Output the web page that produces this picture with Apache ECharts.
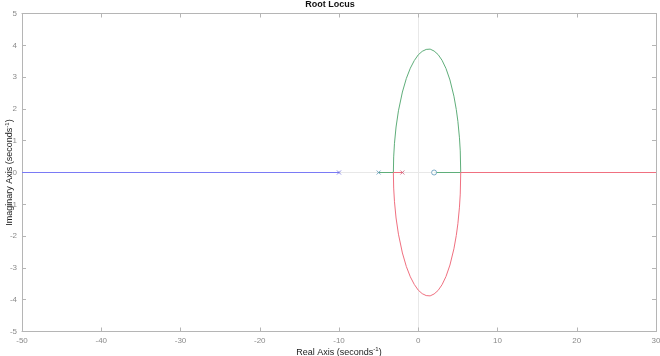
<!DOCTYPE html>
<html>
<head>
<meta charset="utf-8">
<script src="https://cdn.jsdelivr.net/npm/echarts@6/dist/echarts.min.js"></script>
<style>html,body{margin:0;padding:0;background:#fff}#c{width:660px;height:356px}</style>
</head>
<body>
<div id="c"></div>
<script>
// Real-axis branches
var blueBranch = [[-50, 0], [-10, 0]];
var greenRealLeft = [[-5, 0], [-3.14, 0]];
var redRealLeft = [[-2, 0], [-3.14, 0]];
var greenRealRight = [[5.36, 0], [2, 0]];
var redRealRight = [[5.36, 0], [30, 0]];
// Complex branches
var greenUpper = [[-3.14,0],[-3.1,0.49],[-3.0,0.92],[-2.8,1.43],[-2.5,1.94],[-2.0,2.53],[-1.5,2.96],[-1.0,3.28],[-0.5,3.52],[0,3.70],[0.5,3.81],[1.0,3.87],[1.5,3.88],[2.0,3.82],[2.5,3.71],[3.0,3.53],[3.5,3.27],[4.0,2.91],[4.5,2.40],[4.8,1.98],[5.0,1.61],[5.2,1.09],[5.3,0.68],[5.36,0]];
var redLower = [[-3.14,0],[-3.1,-0.49],[-3.0,-0.92],[-2.8,-1.43],[-2.5,-1.94],[-2.0,-2.53],[-1.5,-2.96],[-1.0,-3.28],[-0.5,-3.52],[0,-3.70],[0.5,-3.81],[1.0,-3.87],[1.5,-3.88],[2.0,-3.82],[2.5,-3.71],[3.0,-3.53],[3.5,-3.27],[4.0,-2.91],[4.5,-2.40],[4.8,-1.98],[5.0,-1.61],[5.2,-1.09],[5.3,-0.68],[5.36,0]];
var poles = [[-10, 0], [-5, 0], [-2, 0]];
var zeros = [[2, 0]];
var xTicks = [-50, -40, -30, -20, -10, 0, 10, 20, 30];
var yTicks = [-5, -4, -3, -2, -1, 0, 1, 2, 3, 4, 5];

var BLUE = '#7a7af5', GREEN = '#5fae7a', RED = '#f07080';
var poleColors = ['#6a6ae0', '#5f97b8', '#d0607a'];
var axisCol = '#b5b5b5', labCol = '#8a8a8a';
var font = 'Liberation Sans, Arial, sans-serif';

var chart = echarts.init(document.getElementById('c'), null, {renderer: 'canvas'});
function line(data, color) {
  return {type: 'line', data: data, symbol: 'none', silent: true, z: 3,
    lineStyle: {color: color, width: 1}, animation: false};
}
function axLine() { return {show: true, onZero: false, lineStyle: {color: axisCol, width: 1}}; }
var xSym = 'path://M0,0L10,10M10,0L0,10';
chart.setOption({
  animation: false,
  backgroundColor: '#fff',
  title: {text: 'Root Locus', left: 'center', top: 0, padding: 0,
    textStyle: {fontSize: 9, fontWeight: 'bold', color: '#111', fontFamily: font}},
  grid: {left: 22, right: 4, top: 13.5, bottom: 24.5, containLabel: false, outerBoundsMode: 'none'},
  xAxis: [{
    type: 'value', min: -50, max: 30, interval: 10, position: 'bottom',
    axisLine: axLine(),
    axisTick: {show: true, inside: true, length: 4, lineStyle: {color: axisCol}},
    axisLabel: {color: labCol, fontSize: 8, fontFamily: font, margin: 5,
      formatter: function (v) { return xTicks.indexOf(v) >= 0 ? String(v) : ''; }},
    splitLine: {show: false},
    name: 'Real Axis (seconds{sup|-1})', nameLocation: 'middle', nameGap: 15, nameMoveOverlap: false,
    nameTextStyle: {color: '#222', fontSize: 9, fontFamily: font,
      rich: {sup: {fontSize: 6, color: '#222', fontFamily: font, padding: [0, 0, 6, 0]}}}
  }, {
    type: 'value', min: -50, max: 30, interval: 10, position: 'top',
    axisLine: axLine(),
    axisTick: {show: true, inside: true, length: 4, lineStyle: {color: axisCol}},
    axisLabel: {show: false}, splitLine: {show: false}
  }],
  yAxis: [{
    type: 'value', min: -5, max: 5, interval: 1, position: 'left',
    axisLine: axLine(),
    axisTick: {show: true, inside: true, length: 4, lineStyle: {color: axisCol}},
    axisLabel: {color: labCol, fontSize: 8, fontFamily: font, margin: 5,
      formatter: function (v) { return yTicks.indexOf(v) >= 0 ? String(v) : ''; }},
    splitLine: {show: false},
    name: 'Imaginary Axis (seconds{sup|-1})', nameLocation: 'middle', nameGap: 6, nameRotate: 90,
    nameMoveOverlap: false,
    nameTextStyle: {color: '#222', fontSize: 9, fontFamily: font,
      rich: {sup: {fontSize: 6, color: '#222', fontFamily: font, padding: [0, 0, 6, 0]}}}
  }, {
    type: 'value', min: -5, max: 5, interval: 1, position: 'right',
    axisLine: axLine(),
    axisTick: {show: true, inside: true, length: 4, lineStyle: {color: axisCol}},
    axisLabel: {show: false}, splitLine: {show: false}
  }],
  series: [
    {type: 'line', data: [], symbol: 'none', silent: true, z: 0,
      markLine: {silent: true, symbol: 'none', label: {show: false}, z: 0,
        lineStyle: {color: '#e8e8e8', width: 1, type: 'solid'},
        data: [{xAxis: 0}, {yAxis: 0}]}},
    line(blueBranch, BLUE),
    line(greenRealLeft, GREEN),
    line(redRealLeft, RED),
    line(greenRealRight, GREEN),
    line(redRealRight, RED),
    line(greenUpper, GREEN),
    line(redLower, RED),
    {type: 'scatter', data: poles.map(function (p, i) {
        return {value: p, itemStyle: {color: 'none', borderColor: poleColors[i], borderWidth: 1}};
      }), symbol: xSym, symbolSize: 4, silent: true, z: 5},
    {type: 'scatter', data: zeros, symbol: 'circle', symbolSize: 5, silent: true, z: 5,
      itemStyle: {color: '#fff', borderColor: '#5f97b8', borderWidth: 1}}
  ]
});
</script>
</body>
</html>
